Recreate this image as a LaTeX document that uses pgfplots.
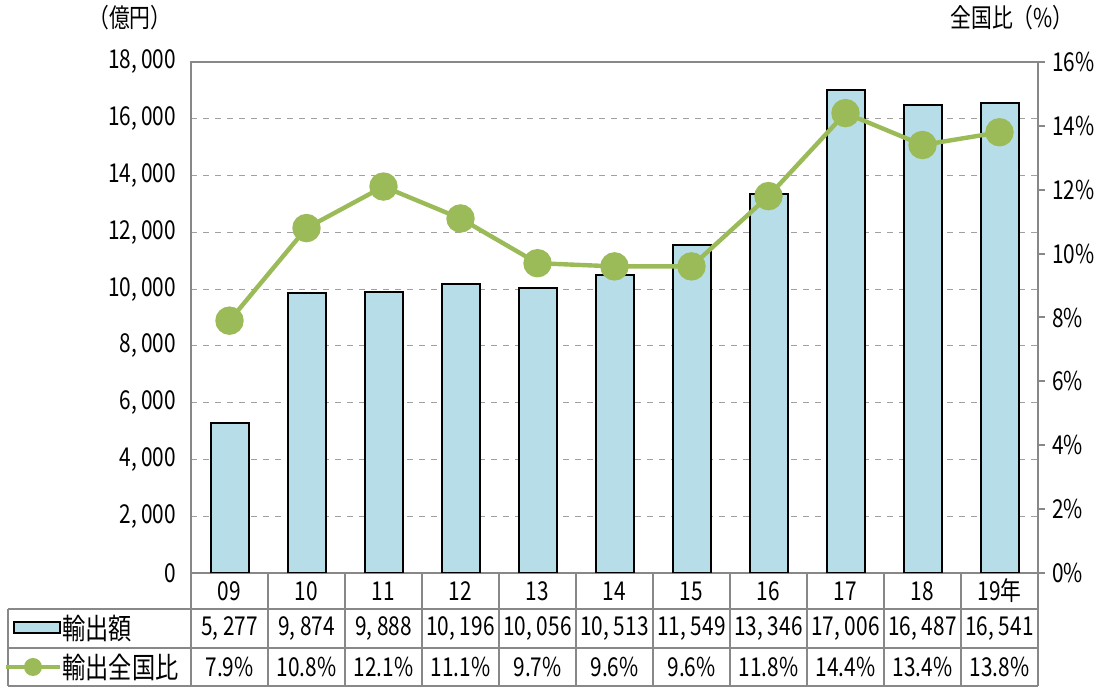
\documentclass[border=0pt]{standalone}
\usepackage{fontspec}
\setmainfont[FakeStretch=0.8]{Noto Sans CJK JP}
\usepackage{pgfplots}
\pgfplotsset{compat=1.18}
\definecolor{barblue}{HTML}{B7DDE8}
\definecolor{linegreen}{HTML}{9BBB59}
\definecolor{gridgray}{HTML}{A0A0A0}
\definecolor{framegray}{HTML}{888888}

\begin{document}
\begin{tikzpicture}[font=\fontsize{13}{15}\selectfont]
\useasboundingbox (0,0) rectangle (549.5pt,344.5pt);

% left axis: export value (bars)
\begin{axis}[at={(95.5pt,58pt)}, anchor=south west, scale only axis,
  width=423.5pt, height=255.5pt,
  xmin=-0.5, xmax=10.5, ymin=0, ymax=18000,
  xtick=\empty,
  ytick={0,2000,...,18000}, ytick style={draw=none},
  ymajorgrids, grid style={gridgray, dashed, line width=0.5pt},
  axis line style={framegray, line width=1pt},
  scaled y ticks=false,
  yticklabel style={/pgf/number format/1000 sep={,\,},
    /pgf/number format/assume math mode=true, xshift=-4pt},
]
\addplot[ybar, bar width=19pt, fill=barblue, draw=black, line width=1pt]
  coordinates {(0,5277) (1,9874) (2,9888) (3,10196) (4,10056) (5,10513)
               (6,11549) (7,13346) (8,17006) (9,16487) (10,16541)};
\end{axis}

% right axis: share of national total (line)
\begin{axis}[at={(95.5pt,58pt)}, anchor=south west, scale only axis,
  width=423.5pt, height=255.5pt,
  xmin=-0.5, xmax=10.5, ymin=0, ymax=16,
  axis x line=none, axis y line*=right,
  ytick={0,2,...,16}, tick align=outside, major tick length=3.5pt,
  ytick style={framegray, line width=1pt},
  axis line style={framegray, line width=1pt},
  yticklabel={\pgfmathprintnumber{\tick}\%},
  yticklabel style={/pgf/number format/assume math mode=true},
]
\addplot[linegreen, line width=2.2pt, mark=*, mark size=6pt,
  mark options={fill=linegreen, draw=linegreen}]
  coordinates {(0,7.9) (1,10.8) (2,12.1) (3,11.1) (4,9.7) (5,9.6)
               (6,9.6) (7,11.8) (8,14.4) (9,13.4) (10,13.8)};
\end{axis}

% data table below the plot (pixel coordinates, y downward)
\begin{scope}[x=0.5pt, y=-0.5pt, shift={(0,344.5pt)}]
  \draw[framegray, line width=1pt] (8,609) -- (1038,609) (8,648) -- (1038,648)
    (8,686) -- (1038,686) (8,609) -- (8,686);
  \foreach \k in {0,...,11} {
    \draw[framegray, line width=1pt] ({191+77*\k},573) -- ({191+77*\k},686);
  }
  \foreach \lbl [count=\k from 0] in {09,10,11,12,13,14,15,16,17,18,19年}
    \node at ({191+77*(\k+0.5)},591) {\lbl};
  \foreach \v [count=\k from 0] in {{5, 277},{9, 874},{9, 888},{10, 196},{10, 056},{10, 513},{11, 549},{13, 346},{17, 006},{16, 487},{16, 541}}
    \node at ({191+77*(\k+0.5)},629) {\v};
  \foreach \v [count=\k from 0] in {7.9,10.8,12.1,11.1,9.7,9.6,9.6,11.8,14.4,13.4,13.8}
    \node at ({191+77*(\k+0.5)},667) {\v\%};
  % legend keys
  \draw[fill=barblue, draw=black, line width=1pt] (14,622) rectangle (60,633);
  \node[anchor=west, inner sep=0pt, font=\fontsize{14.5}{16}\selectfont] at (62,629) {輸出額};
  \draw[linegreen, line width=2.2pt] (6,667) -- (60,667);
  \fill[linegreen] (33,667) circle (9);
  \node[anchor=west, inner sep=0pt, font=\fontsize{14.5}{16}\selectfont] at (62,667) {輸出全国比};
  % axis titles
  \node at (130,18) {（億円）};
  \node at (1012,18) {全国比（\%）};
\end{scope}
\end{tikzpicture}
\end{document}
